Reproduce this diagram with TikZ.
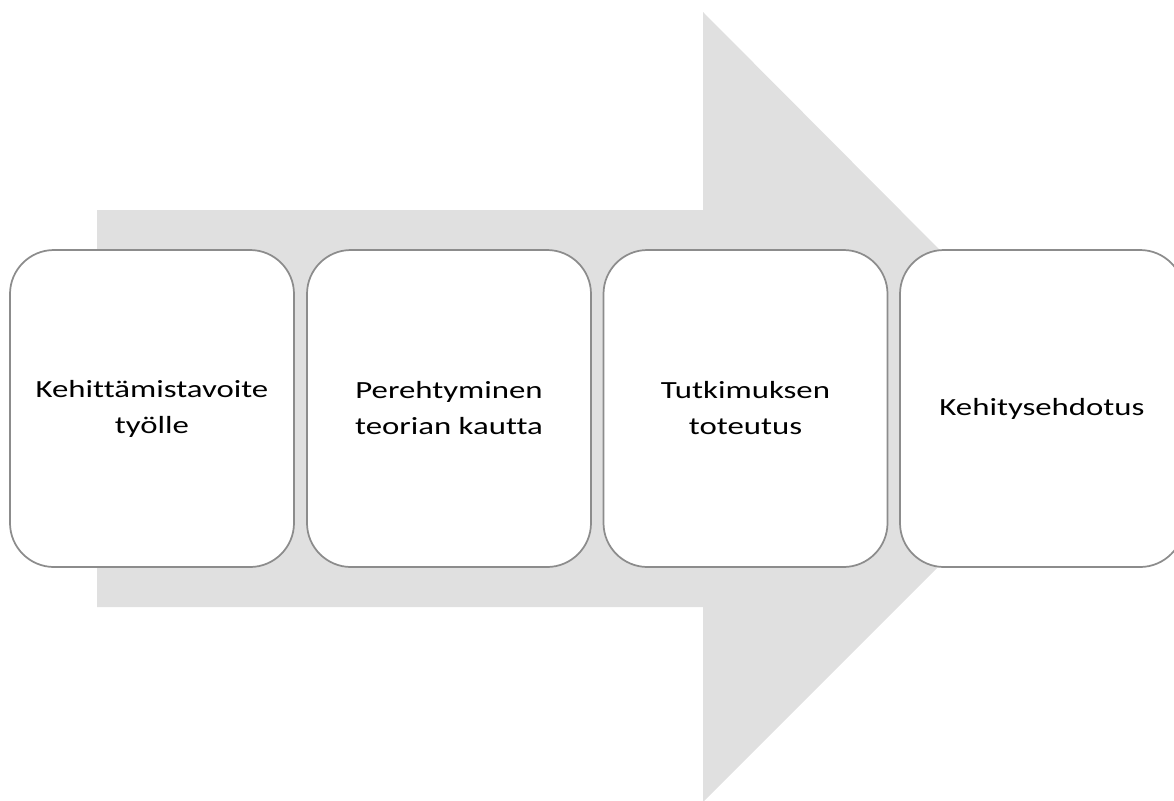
\documentclass[tikz,border=0pt]{standalone}
\usepackage{fontspec}
\setmainfont{Carlito}[FakeStretch=1.33,Ligatures=NoCommon]
\definecolor{arrowgray}{RGB}{224,224,224}
\definecolor{boxline}{RGB}{140,140,140}
\begin{document}
\begin{tikzpicture}[x=0.75pt,y=-0.75pt,
  stage/.style={draw=boxline,line width=1.3pt,fill=white,rounded corners=33pt,
    minimum width=213pt,minimum height=237.75pt,align=center,
    font=\fontsize{18.5}{27}\selectfont}]
\useasboundingbox (0,0) rectangle (1174,800);
\fill[arrowgray] (97,210) -- (703,210) -- (703,12) -- (1097,408) -- (703,802) -- (703,607) -- (97,607) -- cycle;
\node[stage] (goal) at (152,408.5) {Kehittämistavoite\\työlle};
\node[stage] (theory) at (449,408.5) {Perehtyminen\\teorian kautta};
\node[stage] (study) at (745.5,408.5) {Tutkimuksen\\toteutus};
\node[stage] (proposal) at (1042,408.5) {Kehitysehdotus};
\end{tikzpicture}
\end{document}
